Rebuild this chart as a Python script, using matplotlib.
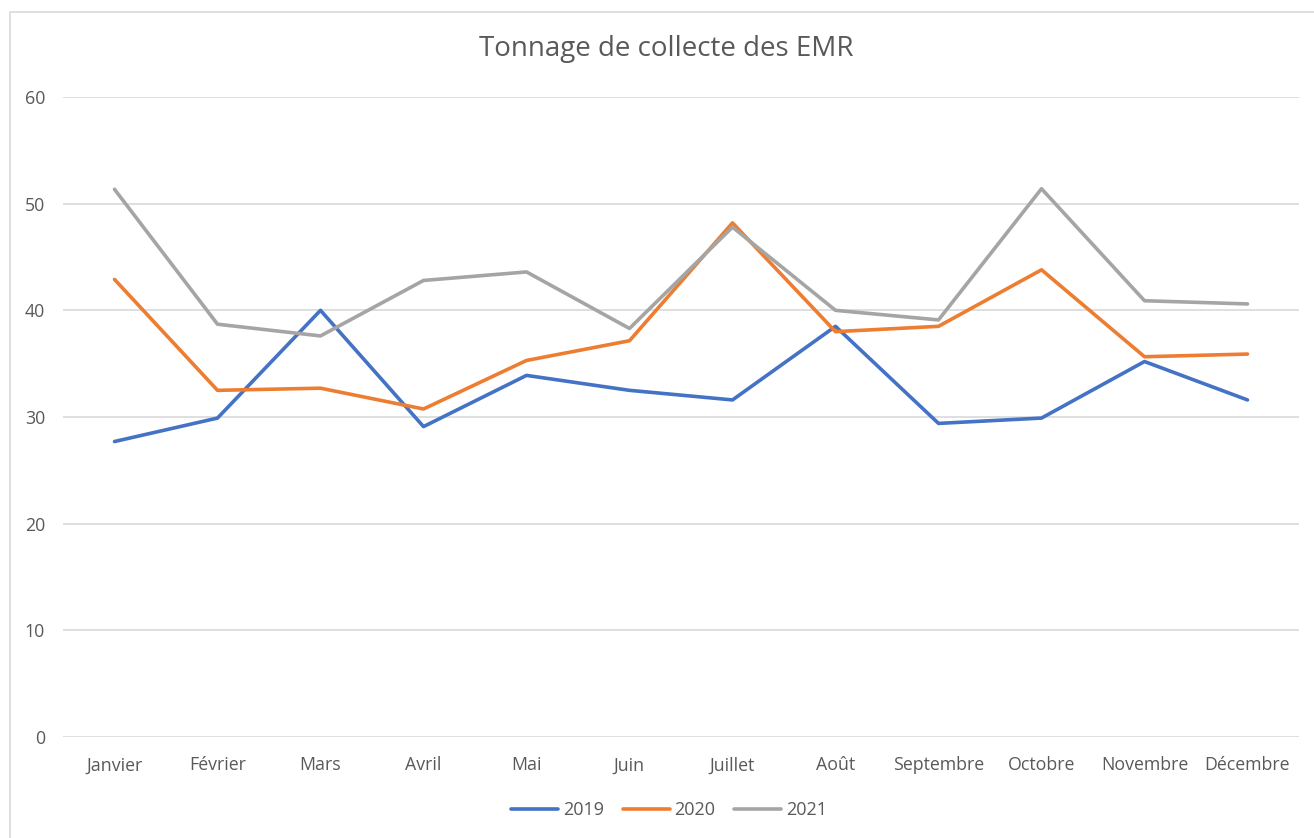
import numpy as np
import matplotlib
matplotlib.use("Agg")
import matplotlib.pyplot as plt
from matplotlib.patches import Rectangle

plt.rcParams['font.family'] = ['Open Sans', 'DejaVu Sans']

# donnees
mois = ['Janvier', 'Février', 'Mars', 'Avril', 'Mai', 'Juin', 'Juillet',
        'Août', 'Septembre', 'Octobre', 'Novembre', 'Décembre']
t2019 = [27.7, 29.9, 40.0, 29.1, 33.9, 32.5, 31.6, 38.5, 29.4, 29.9, 35.2, 31.6]
t2020 = [42.9, 32.5, 32.7, 30.75, 35.3, 37.15, 48.2, 38.0, 38.5, 43.8, 35.65, 35.9]
t2021 = [51.35, 38.7, 37.6, 42.8, 43.6, 38.3, 47.8, 40.0, 39.1, 51.4, 40.9, 40.6]
annees = ['2019', '2020', '2021']
couleurs = ['#4472C4', '#ED7D31', '#A5A5A5']
yticks = [0, 10, 20, 30, 40, 50, 60]

gris_txt = '#595959'

fig = plt.figure(figsize=(13.14, 8.38), dpi=100)
ax = fig.add_axes([63/1314, 1-737/838, (1299-63)/1314, (737-97)/838])

x = np.arange(len(mois))
for serie, nom, c in zip([t2019, t2020, t2021], annees, couleurs):
    ax.plot(x, serie, color=c, lw=2.6, label=nom, solid_joinstyle='round',
            solid_capstyle='round')

ax.set_xlim(-0.5, len(mois) - 0.5)
ax.set_ylim(0, 60)
ax.set_yticks(yticks)
ax.set_xticks(x)
ax.set_xticklabels(mois)
ax.yaxis.grid(True, color='#D9D9D9', lw=1.2)
ax.set_axisbelow(True)
for s in ax.spines.values():
    s.set_visible(False)
ax.tick_params(axis='both', length=0, colors=gris_txt, labelsize=12.8)
ax.tick_params(axis='y', pad=13)
ax.tick_params(axis='x', pad=14)

fig.text(666/1314, 1-49/838, 'Tonnage de collecte des EMR', ha='center', va='center',
         fontsize=20, color=gris_txt)

fig.legend(loc='center', bbox_to_anchor=(669/1314, 1-810/838), ncol=3, frameon=False,
           fontsize=13, handlelength=2.6, handletextpad=0.25, columnspacing=1.05,
           labelcolor=gris_txt)

# cadre du graphique
fig.patches.append(Rectangle((10/1314, -0.01), 1.0, 1-12/838+0.01,
                             transform=fig.transFigure, fill=False,
                             edgecolor='#D9D9D9', lw=1.2))

fig.savefig('out.png', dpi=100)
